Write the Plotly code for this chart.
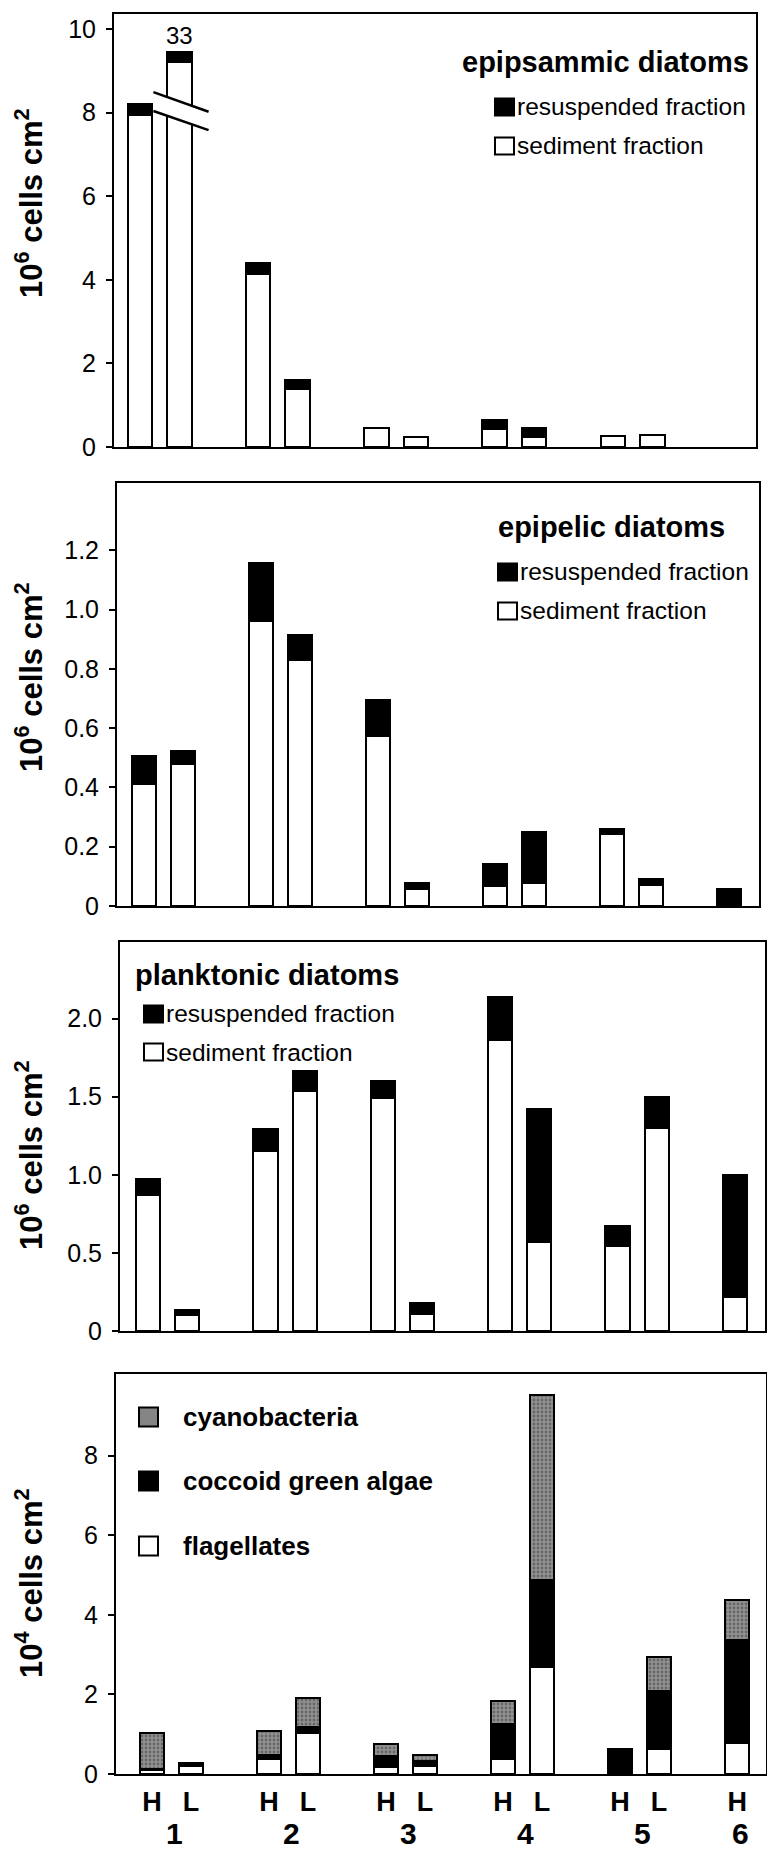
import plotly.graph_objects as go

# ---------------- data ----------------
sample_labels = ["H", "L", "H", "L", "H", "L", "H", "L", "H", "L", "H"]
site_of_sample = [1, 1, 2, 2, 3, 3, 4, 4, 5, 5, 6]
site_labels = ["1", "2", "3", "4", "5", "6"]
x_pos = [0, 1, 3, 4, 6, 7, 9, 10, 12, 13, 15]

# epipsammic diatoms (10^6 cells cm-2); site 1 L is a broken bar (true total 33)
epipsammic_sediment = [7.95, 9.2, 4.15, 1.38, 0.45, 0.25, 0.42, 0.24, 0.27, 0.28, None]
epipsammic_resusp = [0.25, 0.26, 0.25, 0.23, None, None, 0.23, 0.22, None, None, None]
broken_label = "33"
broken_index = 1

# epipelic diatoms (10^6 cells cm-2)
epipelic_sediment = [0.41, 0.48, 0.96, 0.83, 0.575, 0.057, 0.068, 0.076, 0.243, 0.071, None]
epipelic_resusp = [0.097, 0.042, 0.198, 0.085, 0.12, 0.022, 0.073, 0.174, 0.016, 0.02, 0.056]

# planktonic diatoms (10^6 cells cm-2)
planktonic_sediment = [0.87, 0.105, 1.155, 1.535, 1.49, 0.107, 1.865, 0.57, 0.545, 1.30, 0.22]
planktonic_resusp = [0.10, 0.032, 0.138, 0.13, 0.11, 0.073, 0.276, 0.852, 0.13, 0.197, 0.78]

# other algae (10^4 cells cm-2)
flagellates = [0.1, 0.2, 0.37, 1.04, 0.18, 0.2, 0.37, 2.68, None, 0.64, 0.77]
coccoid_green = [0.03, 0.08, 0.11, 0.15, 0.27, 0.125, 0.88, 2.19, 0.64, 1.45, 2.59]
cyanobacteria = [0.9, None, 0.6, 0.71, 0.3, 0.15, 0.59, 4.64, None, 0.84, 1.02]

ticks_p1 = [0, 2, 4, 6, 8, 10]
ticks_p2 = [0, 0.2, 0.4, 0.6, 0.8, 1.0, 1.2]
ticktext_p2 = ["0", "0.2", "0.4", "0.6", "0.8", "1.0", "1.2"]
ticks_p3 = [0, 0.5, 1.0, 1.5, 2.0]
ticktext_p3 = ["0", "0.5", "1.0", "1.5", "2.0"]
ticks_p4 = [0, 2, 4, 6, 8]

# ---------------- layout helpers ----------------
W, H = 767, 1850
FONT = "Liberation Sans, Arial, Helvetica, sans-serif"


def px(x):
    return x / W


def py(y):
    return 1 - y / H


BAR_W = 0.62
LINE = dict(color="black", width=2)
GRAY = "#858585"

fig = go.Figure()


def add_bar(vals, color, xa, ya, name, pattern=None):
    marker = dict(color=color, line=LINE)
    if pattern:
        marker["pattern"] = pattern
    fig.add_trace(go.Bar(x=x_pos, y=vals, width=BAR_W, marker=marker, name=name,
                         xaxis=xa, yaxis=ya, showlegend=False))


add_bar(epipsammic_sediment, "white", "x", "y", "sediment fraction")
add_bar(epipsammic_resusp, "black", "x", "y", "resuspended fraction")
add_bar(epipelic_sediment, "white", "x2", "y2", "sediment fraction")
add_bar(epipelic_resusp, "black", "x2", "y2", "resuspended fraction")
add_bar(planktonic_sediment, "white", "x3", "y3", "sediment fraction")
add_bar(planktonic_resusp, "black", "x3", "y3", "resuspended fraction")
add_bar(flagellates, "white", "x4", "y4", "flagellates")
add_bar(coccoid_green, "black", "x4", "y4", "coccoid green algae")
add_bar(cyanobacteria, "#929292", "x4", "y4", "cyanobacteria",
        pattern=dict(shape=".", fillmode="overlay", fgcolor="#3c3c3c", size=4, solidity=0.4))

panels = [
    # (xdomain px, ydomain px (top,bottom), xrange, yrange, ticks, ticktext)
    ((114, 756), (14, 447), [-0.66, 15.63], [0, 10.36], ticks_p1, [str(t) for t in ticks_p1]),
    ((117, 759), (483, 906), [-0.69, 15.77], [0, 1.427], ticks_p2, ticktext_p2),
    ((120, 765), (942, 1331), [-0.72, 15.77], [0, 2.49], ticks_p3, ticktext_p3),
    ((116, 766), (1374, 1774), [-0.92, 15.74], [0, 10.05], ticks_p4, [str(t) for t in ticks_p4]),
]

layout = dict(
    width=W, height=H, margin=dict(l=0, r=0, t=0, b=0, autoexpand=False),
    paper_bgcolor="white", plot_bgcolor="white", barmode="stack", bargap=0,
    font=dict(family=FONT, color="black"), showlegend=False,
)
for i, (xd, yd, xr, yr, tv, tt) in enumerate(panels, start=1):
    sfx = "" if i == 1 else str(i)
    layout["xaxis" + sfx] = dict(
        domain=[px(xd[0]), px(xd[1])], range=xr, anchor="y" + sfx, automargin=False,
        showline=True, linecolor="black", linewidth=2, mirror=True,
        showgrid=False, zeroline=False, ticks="", showticklabels=False, fixedrange=True,
    )
    layout["yaxis" + sfx] = dict(
        domain=[py(yd[1]), py(yd[0])], range=yr, anchor="x" + sfx, automargin=False,
        showline=True, linecolor="black", linewidth=2, mirror=True,
        showgrid=False, zeroline=False, ticks="outside", ticklen=6, tickwidth=1.5,
        tickcolor="black", tickvals=tv, ticktext=tt, ticklabelstandoff=5,
        tickfont=dict(size=25, family=FONT, color="black"), fixedrange=True,
    )

# H / L labels under the bottom panel
layout["xaxis4"].update(showticklabels=True, tickvals=x_pos, ticktext=sample_labels,
                        tickfont=dict(size=27, family=FONT, color="black", weight="bold"),
                        ticklabelstandoff=3)
fig.update_layout(**layout)

ann = []
# y-axis titles
for yc, exp in [(203, "6"), (677, "6"), (1155, "6"), (1583, "4")]:
    ann.append(dict(text=f"10<sup>{exp}</sup> cells cm<sup>2</sup>", x=px(29), y=py(yc),
                    xref="paper", yref="paper", textangle=-90, showarrow=False,
                    xanchor="center", yanchor="middle",
                    font=dict(size=31, family=FONT, color="black", weight="bold")))

# panel titles
for txt, x0, yc in [("epipsammic diatoms", 460, 62), ("epipelic diatoms", 496, 527),
                    ("planktonic diatoms", 133, 975)]:
    ann.append(dict(text=txt, x=px(x0), y=py(yc), xref="paper", yref="paper",
                    showarrow=False, xanchor="left", yanchor="middle",
                    font=dict(size=29, family=FONT, color="black", weight="bold")))

shapes = []


def legend_item(xsq, yc, fill, label, w=19, h=17, bold=False, fsize=24.5, xtext=None):
    shapes.append(dict(type="rect", xref="paper", yref="paper",
                       x0=px(xsq), x1=px(xsq + w), y0=py(yc + h / 2), y1=py(yc - h / 2),
                       fillcolor=fill, line=dict(color="black", width=2), layer="above"))
    f = dict(size=fsize, family=FONT, color="black")
    if bold:
        f["weight"] = "bold"
    ann.append(dict(text=label, x=px(xtext if xtext else xsq + w + 1), y=py(yc),
                    xref="paper", yref="paper", showarrow=False,
                    xanchor="left", yanchor="middle", font=f))


legend_item(495, 107, "black", "resuspended fraction")
legend_item(495, 146, "white", "sediment fraction")
legend_item(498, 572, "black", "resuspended fraction")
legend_item(498, 611, "white", "sediment fraction")
legend_item(144, 1014, "black", "resuspended fraction")
legend_item(144, 1052, "white", "sediment fraction")
legend_item(139, 1417, GRAY, "cyanobacteria", w=19, h=19, bold=True, fsize=26, xtext=181)
legend_item(139, 1481, "black", "coccoid green algae", w=19, h=19, bold=True, fsize=26, xtext=181)
legend_item(139, 1546, "white", "flagellates", w=19, h=19, bold=True, fsize=26, xtext=181)

# broken bar: label and break marks
xb = x_pos[broken_index]
top_b = epipsammic_sediment[broken_index] + epipsammic_resusp[broken_index]
ann.append(dict(text=broken_label, x=xb, y=top_b, xref="x", yref="y", showarrow=False,
                xanchor="center", yanchor="bottom", yshift=1,
                font=dict(size=24, family=FONT, color="black")))
xa0, xa1 = xb - 0.66, xb + 0.74
shapes.append(dict(type="path", xref="x", yref="y", layer="above",
                   path=f"M{xa0},8.49 L{xa1},8.02 L{xa1},7.58 L{xa0},8.04 Z",
                   fillcolor="white", line=dict(width=0)))
shapes.append(dict(type="line", xref="x", yref="y", layer="above",
                   x0=xa0, y0=8.49, x1=xa1, y1=8.02, line=dict(color="black", width=2.5)))
shapes.append(dict(type="line", xref="x", yref="y", layer="above",
                   x0=xa0, y0=8.04, x1=xa1, y1=7.58, line=dict(color="black", width=2.5)))

# site numbers under the H/L labels
for k, s in enumerate(site_labels, start=1):
    xs = [x for x, site in zip(x_pos, site_of_sample) if site == k]
    ann.append(dict(text=s, x=sum(xs) / len(xs), y=py(1833), xref="x4", yref="paper",
                    showarrow=False, xanchor="center", yanchor="middle", xshift=3,
                    font=dict(size=30, family=FONT, color="black", weight="bold")))

fig.update_layout(annotations=ann, shapes=shapes)
fig.write_html("out.html")
